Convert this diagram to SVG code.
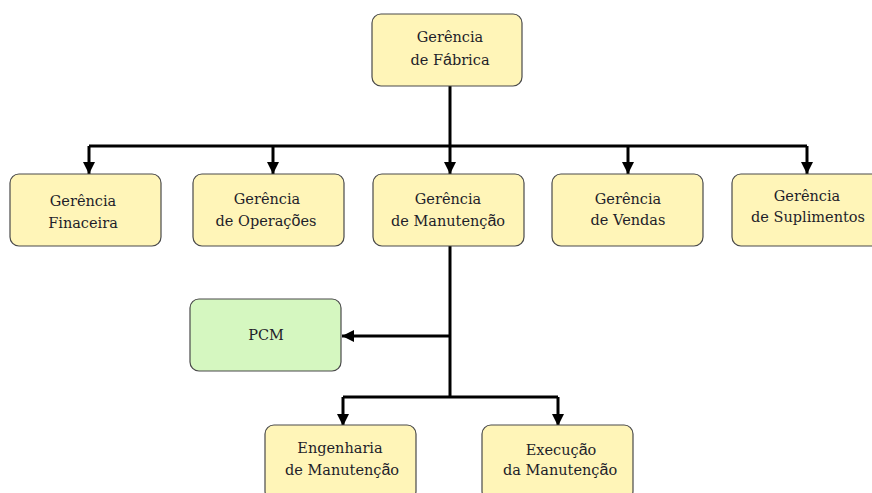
<svg xmlns="http://www.w3.org/2000/svg" width="872" height="493" viewBox="0 0 872 493">
<style>
.box{fill:#fff5b8;stroke:#4a4a4a;stroke-width:1.2}
.green{fill:#d5f7c0;stroke:#4a4a4a;stroke-width:1.2}
text{font-family:"DejaVu Serif","Liberation Serif",serif;font-size:14.5px;fill:#1e1e2a;text-anchor:middle}
.s{font-family:"Liberation Sans",Arial,sans-serif;font-size:16px}
.c{fill:none;stroke:#000;stroke-width:3}
</style>
<defs>
<marker id="ah" markerUnits="userSpaceOnUse" markerWidth="14" markerHeight="14" viewBox="0 0 14 14" refX="12" refY="7" orient="auto">
<path d="M0,1 L12,7 L0,13 Z" fill="#000"/>
</marker>
</defs>
<rect width="872" height="493" fill="#fff"/>
<g id="connectors">
<path class="c" d="M450,86 V146"/>
<path class="c" d="M89,146 H807"/>
<path class="c" d="M89,146 V174" marker-end="url(#ah)"/>
<path class="c" d="M273,146 V174" marker-end="url(#ah)"/>
<path class="c" d="M450,146 V174" marker-end="url(#ah)"/>
<path class="c" d="M628,146 V174" marker-end="url(#ah)"/>
<path class="c" d="M807,146 V174" marker-end="url(#ah)"/>
<path class="c" d="M450,246 V397"/>
<path class="c" d="M450,336 H342" marker-end="url(#ah)"/>
<path class="c" d="M343,397 H558"/>
<path class="c" d="M343,397 V426" marker-end="url(#ah)"/>
<path class="c" d="M558,397 V426" marker-end="url(#ah)"/>
</g>
<g id="fabrica">
<rect class="box" x="372" y="14" width="150" height="72" rx="9"/>
<text x="450" y="42">Gerência</text>
<text x="450" y="65">de F<tspan class="s">á</tspan>brica</text>
</g>
<g id="financeira">
<rect class="box" x="10" y="174" width="151" height="72" rx="9"/>
<text x="83" y="206">Gerência</text>
<text x="83" y="228">Finaceira</text>
</g>
<g id="operacoes">
<rect class="box" x="193" y="174" width="151" height="72" rx="9"/>
<text x="267" y="204">Gerência</text>
<text x="266" y="226">de Operaç<tspan class="s">õ</tspan>es</text>
</g>
<g id="manutencao">
<rect class="box" x="373" y="174" width="151" height="72" rx="9"/>
<text x="448" y="204">Gerência</text>
<text x="448" y="226">de Manutenç<tspan class="s">ã</tspan>o</text>
</g>
<g id="vendas">
<rect class="box" x="552" y="174" width="151" height="72" rx="9"/>
<text x="628" y="204">Gerência</text>
<text x="628" y="225">de Vendas</text>
</g>
<g id="suplimentos">
<rect class="box" x="732" y="174" width="152" height="72" rx="9"/>
<text x="807" y="201">Gerência</text>
<text x="808" y="222">de Suplimentos</text>
</g>
<g id="pcm">
<rect class="green" x="190" y="299" width="151" height="72" rx="9"/>
<text x="266" y="340">PCM</text>
</g>
<g id="engenharia">
<rect class="box" x="265" y="425" width="151" height="75" rx="9"/>
<text x="340" y="453">Engenharia</text>
<text x="342" y="475">de Manutenç<tspan class="s">ã</tspan>o</text>
</g>
<g id="execucao">
<rect class="box" x="482" y="425" width="151" height="75" rx="9"/>
<text x="561" y="455">Execuç<tspan class="s">ã</tspan>o</text>
<text x="560" y="475">da Manutenç<tspan class="s">ã</tspan>o</text>
</g>
</svg>
